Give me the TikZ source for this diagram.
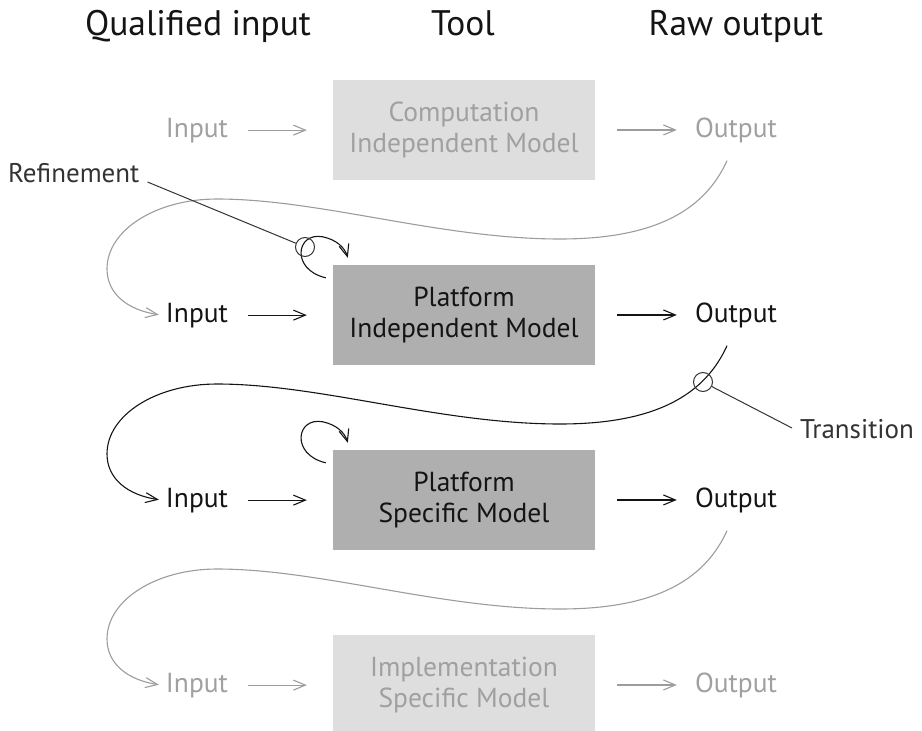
\documentclass[tikz,border=0pt]{standalone}
\usepackage{fontspec}
\setmainfont{PT Sans}
\usetikzlibrary{arrows.meta}

\definecolor{ink}{HTML}{141414}
\definecolor{fadeink}{HTML}{A0A0A0}
\definecolor{fadeline}{HTML}{9C9C9C}
\definecolor{labelink}{HTML}{333333}
\definecolor{darkfill}{HTML}{AFAFAF}
\definecolor{lightfill}{HTML}{DEDEDE}

\begin{document}
\begin{tikzpicture}[x=1pt,y=-1pt,
  head/.style={font=\fontsize{35.5}{40}\selectfont, anchor=base, text=ink},
  io/.style={font=\fontsize{27.5}{31}\selectfont, anchor=base, inner sep=4pt},
  note/.style={font=\fontsize{27}{31}\selectfont, anchor=base west, inner sep=0pt, text=labelink},
  model/.style={minimum width=262pt, minimum height=100pt, align=center,
    font=\fontsize{27.5}{31}\selectfont, inner sep=0pt},
  flow/.style={line width=1.1pt, -{Straight Barb[length=12pt,width=10pt]}},
  marker/.style={draw=labelink, circle, minimum size=19pt, inner sep=0pt, line width=1pt},
  lead/.style={draw=labelink, line width=1pt}
]
\useasboundingbox (0,0) rectangle (922,731);
\clip (0,0) rectangle (922,731);

% column headings
\node[head] (hq) at (198,35) {Qualified input};
\node[head] (ht) at (463,35) {Tool};
\node[head] (hr) at (736,35) {Raw output};

% model boxes
\node[model, fill=lightfill, text=fadeink] (m1) at (464,130) {Computation\\Independent Model};
\node[model, fill=darkfill,  text=ink]     (m2) at (464,315) {Platform\\Independent Model};
\node[model, fill=darkfill,  text=ink]     (m3) at (464,500) {Platform\\Specific Model};
\node[model, fill=lightfill, text=fadeink] (m4) at (464,685) {Implementation\\Specific Model};

% inputs and outputs of each stage
\foreach \i/\r/\t in {1/129/fadeink, 2/314/ink, 3/499/ink, 4/684/fadeink}{
  \node[io, text=\t] (in\i)  at (197,{\r+8}) {Input};
  \node[io, text=\t] (out\i) at (736,{\r+8}) {Output};
}

% horizontal flow through each tool
\foreach \i/\c in {1/fadeline, 2/ink, 3/ink, 4/fadeline}{
  \draw[flow, \c, shorten <=16pt, shorten >=26pt] (in\i.east) -- (in\i.east -| m\i.west);
  \draw[flow, \c, shorten <=22pt, shorten >=14pt] (m\i.east |- out\i.west) -- (out\i.west);
}

% output of one stage fed back as input of the next
\foreach \a/\b/\r/\c in {1/2/129/fadeline, 2/3/314/ink, 3/4/499/fadeline}{
  \coordinate (tail\a) at ([shift={(-9pt,-14pt)}]out\a.south);
  \draw[flow, \c, shorten >=3pt] (tail\a)
    .. controls (706,{\r+78}) and (660,{\r+110}) .. (560,{\r+110})
    .. controls (440,{\r+110}) and (320,{\r+70}) .. (217,{\r+70})
    .. controls (156,{\r+70}) and (107,{\r+101}) .. (107,{\r+140})
    .. controls (107,{\r+165}) and (128,{\r+181}) .. (in\b.west);
}

% refinement loops on the platform models
\foreach \i in {2,3}{
  \draw[flow, ink] ([shift={(-7,13)}]m\i.north west)
    .. controls ([shift={(-42,5)}]m\i.north west) and ([shift={(-37,-33)}]m\i.north west)
    .. ([shift={(-10,-28)}]m\i.north west)
    .. controls ([shift={(4,-25)}]m\i.north west) and ([shift={(12,-17)}]m\i.north west)
    .. ([shift={(15,-7)}]m\i.north west);
}

% annotations
\node[marker] (refc) at (305,247) {};
\node[note] (reft) at (8,182) {Refinement};
\draw[lead] ([xshift=8pt]reft.base east) -- (refc);

\node[marker] (trc) at (703,382) {};
\node[note] (trt) at (800,438) {Transition};
\draw[lead] (trc) -- ([shift={(-8,-10)}]trt.base west);
\end{tikzpicture}
\end{document}
